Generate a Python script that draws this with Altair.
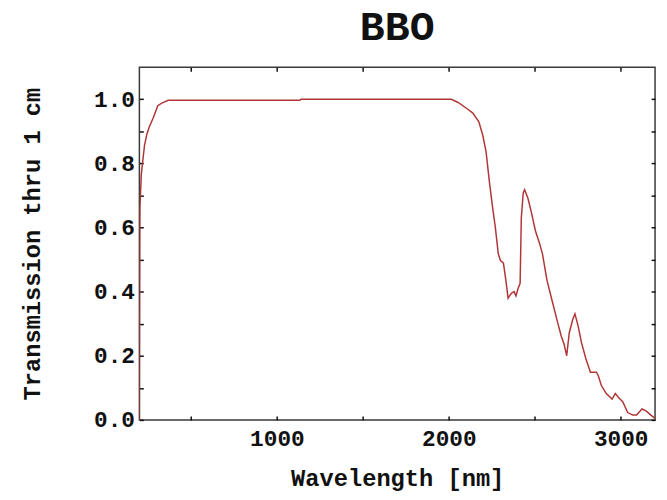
import altair as alt
import pandas as pd

# Data
wavelength = [200, 201, 203, 211, 219, 230, 244, 257, 282, 307, 330, 368, 1134, 1140,
              2015, 2054, 2111, 2140, 2175, 2198, 2217, 2236, 2255, 2271, 2288, 2300,
              2318, 2332, 2345, 2364, 2380, 2391, 2403, 2415, 2422, 2433, 2441, 2460,
              2479, 2504, 2529, 2545, 2571, 2600, 2629, 2654, 2671, 2686, 2701, 2721,
              2734, 2753, 2772, 2798, 2824, 2859, 2870, 2887, 2916, 2950, 2969, 2993,
              3012, 3041, 3070, 3093, 3124, 3147, 3176, 3200]
transmission = [0.0, 0.30, 0.66, 0.764, 0.805, 0.857, 0.892, 0.913, 0.944, 0.98, 0.988,
                0.997, 0.997, 1.0,
                1.0, 0.99, 0.969, 0.957, 0.930, 0.887, 0.836, 0.744, 0.662, 0.60, 0.518,
                0.498, 0.489, 0.436, 0.38, 0.395, 0.40, 0.387, 0.41, 0.426, 0.631, 0.708,
                0.718, 0.692, 0.651, 0.59, 0.549, 0.518, 0.436, 0.374, 0.313, 0.262,
                0.236, 0.20, 0.272, 0.313, 0.331, 0.292, 0.241, 0.19, 0.149, 0.149,
                0.138, 0.108, 0.082, 0.065, 0.082, 0.067, 0.057, 0.023, 0.015, 0.015,
                0.034, 0.028, 0.015, 0.005]

x_tick_values = [500, 1000, 1500, 2000, 2500, 3000]
x_label_values = [1000, 2000, 3000]
y_tick_values = [0.0, 0.1, 0.2, 0.3, 0.4, 0.5, 0.6, 0.7, 0.8, 0.9, 1.0]
y_label_values = [0.0, 0.2, 0.4, 0.6, 0.8, 1.0]

df = pd.DataFrame({"wl": wavelength, "t": transmission})

FONT = "Liberation Mono"
xs = alt.Scale(domain=[200, 3200], nice=False, zero=False)
ys = alt.Scale(domain=[0, 1.1], nice=False, zero=False)

line = alt.Chart(df).mark_line(color="#b03636", strokeWidth=1.5, clip=True).encode(
    x=alt.X("wl:Q", scale=xs, axis=alt.Axis(
        values=x_label_values, format="d", ticks=False, tickSize=0, domain=False, grid=False,
        labelFont=FONT, labelFontSize=23, labelFontWeight="bold", labelColor="#111",
        labelPadding=8, title="Wavelength [nm]", titleFont=FONT, titleFontSize=24,
        titleFontWeight="bold", titleColor="#111", titlePadding=16)),
    y=alt.Y("t:Q", scale=ys, axis=alt.Axis(
        values=y_label_values, format=".1f", ticks=False, tickSize=0, domain=False, grid=False,
        labelFont=FONT, labelFontSize=23, labelFontWeight="bold", labelColor="#111",
        labelPadding=5, title="Transmission thru 1 cm", titleFont=FONT, titleFontSize=24,
        titleFontWeight="bold", titleColor="#111", titlePadding=50)),
)

tick_common = dict(labels=False, domain=False, grid=False, ticks=True, tickSize=4,
                   tickWidth=1.5, tickColor="#111", offset=-4, title=None)

ticks_bl = alt.Chart(df).mark_line(opacity=0).encode(
    x=alt.X("wl:Q", scale=xs, axis=alt.Axis(values=x_tick_values, orient="bottom", **tick_common)),
    y=alt.Y("t:Q", scale=ys, axis=alt.Axis(values=y_tick_values, orient="left", **tick_common)),
)
ticks_tr = alt.Chart(df).mark_line(opacity=0).encode(
    x=alt.X("wl:Q", scale=xs, axis=alt.Axis(values=x_tick_values, orient="top", **tick_common)),
    y=alt.Y("t:Q", scale=ys, axis=alt.Axis(values=y_tick_values, orient="right", **tick_common)),
)

chart = alt.layer(line, ticks_bl, ticks_tr).resolve_axis(
    x="independent", y="independent"
).properties(
    width=522, height=357,
    autosize=alt.AutoSizeParams(type="none"),
    padding={"left": 133, "top": 57, "right": 4, "bottom": 70},
    title=alt.TitleParams("BBO", font=FONT, fontSize=42, fontWeight="bold", color="#111",
                          anchor="middle", baseline="alphabetic", offset=-15),
    background="white",
).configure_view(stroke="#3a3a3a", strokeWidth=1.5)

chart.save("out.html", embed_options={"renderer": "svg", "actions": False})
